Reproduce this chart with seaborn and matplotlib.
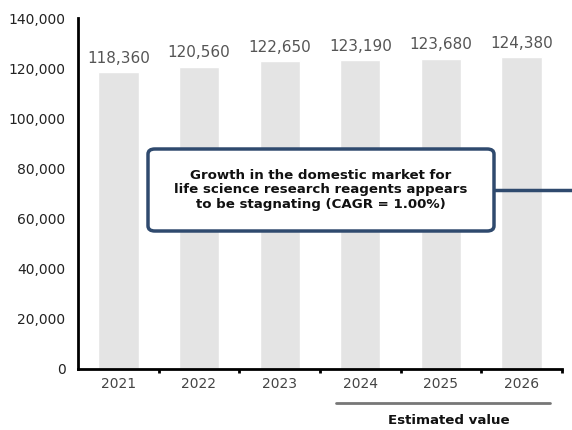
import matplotlib
matplotlib.use("Agg")
import matplotlib.pyplot as plt
from matplotlib.patches import FancyBboxPatch
from matplotlib.lines import Line2D
from matplotlib.ticker import FuncFormatter, FixedLocator
import seaborn as sns
import pandas as pd

# Domestic market size for life science research reagents
years = ["2021", "2022", "2023", "2024", "2025", "2026"]
market_size = [118360, 120560, 122650, 123190, 123680, 124380]
y_ticks = [0, 20000, 40000, 60000, 80000, 100000, 120000, 140000]
callout_text = ("Growth in the domestic market for\n"
                "life science research reagents appears\n"
                "to be stagnating (CAGR = 1.00%)")
estimate_label = "Estimated value"

df = pd.DataFrame({"year": years, "value": market_size})

sns.set_theme(style="white")
plt.rcParams["font.family"] = ["DejaVu Sans"]

fig = plt.figure(figsize=(5.72, 4.30), dpi=100)
ax = fig.add_axes([78 / 572, 1 - 369 / 430, (562 - 78) / 572, (369 - 18) / 430])

sns.barplot(data=df, x="year", y="value", color="#e4e4e4", saturation=1,
            width=0.5, ax=ax)

ax.set_xlim(-0.5, 5.5)
ax.set_ylim(0, 140000)
ax.set_xlabel("")
ax.set_ylabel("")

# Spines: left and bottom only, solid black
for side in ("top", "right"):
    ax.spines[side].set_visible(False)
for side in ("left", "bottom"):
    ax.spines[side].set_color("black")
    ax.spines[side].set_linewidth(2)

# Y axis
ax.yaxis.set_major_locator(FixedLocator(y_ticks))
ax.yaxis.set_major_formatter(FuncFormatter(lambda v, p: f"{int(v):,}"))
ax.tick_params(axis="y", length=0, pad=9, labelsize=10, labelcolor="#222222")

# X axis: tick marks between categories, labels centred under bars
ax.xaxis.set_major_locator(FixedLocator([i + 0.5 for i in range(len(years))]))
ax.xaxis.set_minor_locator(FixedLocator(list(range(len(years)))))
ax.set_xticklabels([""] * len(years))
ax.set_xticklabels(years, minor=True)
ax.tick_params(axis="x", which="major", length=3, width=2, color="black",
               direction="out", bottom=True)
ax.tick_params(axis="x", which="minor", length=0, pad=6, labelsize=10,
               labelcolor="#444444", bottom=True)

# Value labels above bars
for i, v in enumerate(market_size):
    ax.text(i, v + 5600, f"{v:,}", ha="center", va="center",
            fontsize=11, color="#555555")

# Callout box with connector line to the right edge
box = FancyBboxPatch((148 / 572, 1 - 231 / 430), (494 - 148) / 572, (231 - 149) / 430,
                     boxstyle="round,pad=0,rounding_size=0.012",
                     transform=fig.transFigure, facecolor="white",
                     edgecolor="#2f4a6e", linewidth=2.5, zorder=5)
fig.add_artist(box)
fig.add_artist(Line2D([494 / 572, 1.0], [1 - 190 / 430, 1 - 190 / 430],
                      transform=fig.transFigure, color="#2f4a6e", linewidth=2.5,
                      zorder=4))
fig.text(321 / 572, 1 - 190 / 430, callout_text, ha="center", va="center",
         fontsize=9.6, fontweight="bold", color="#111111", linespacing=1.15,
         zorder=6)

# Bracket marking the estimated years
fig.add_artist(Line2D([336 / 572, 550 / 572], [1 - 403 / 430, 1 - 403 / 430],
                      transform=fig.transFigure, color="#777777", linewidth=2))
fig.text(449 / 572, 1 - 421 / 430, estimate_label, ha="center", va="center",
         fontsize=9.6, fontweight="bold", color="#111111")

fig.savefig("out.png", dpi=100, facecolor="white")
